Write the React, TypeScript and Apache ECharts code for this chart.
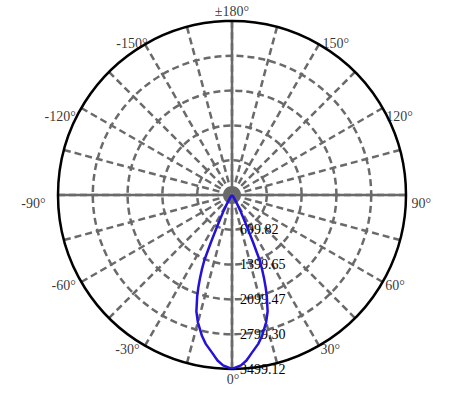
import { useEffect, useRef } from "react";
import * as echarts from "echarts";

// angles (deg, C0-C180 plane) and luminous intensity (cd)
const angles = [0, 3, 5, 7, 10, 12, 15, 17, 19, 20, 21, 22, 23, 24, 25, 26, 28, 30, 35, 40, 45, 90, 135, 180];
const intensity = [3499.12, 3430, 3340, 3209, 3040, 2900, 2650, 2450, 2150, 1980, 1800, 1620, 1420, 1050, 750, 560, 350, 200, 60, 15, 0, 0, 0, 0];
const angleTicks = [-150, -120, -90, -60, -30, 0, 30, 60, 90, 120, 150, 180];
const radiusMax = 3499.12;
const ringCount = 5;

const FONT = "'Liberation Serif', 'Times New Roman', serif";
const GRID = "#6a6a6a";

function toAxis(a: number): number {
    return a < 0 ? a + 360 : a;
}

function buildPoints(): [number, number][] {
    const pts: [number, number][] = [];
    // -180 .. 0 .. 180
    for (let i = angles.length - 1; i > 0; i--) {
        pts.push([intensity[i], toAxis(-angles[i])]);
    }
    for (let i = 0; i < angles.length; i++) {
        pts.push([intensity[i], angles[i]]);
    }
    return pts;
}

// nudge of each angle label from its point on the outer circle
function labelShift(a: number): [number, number] {
    const m = Math.abs(a);
    const side = a > 0 ? 1 : -1;
    if (m === 150) return [side === 1 ? 3 : 3, -1];
    if (m === 120) return [side === 1 ? 3 : -5, 8];
    if (m === 90) return [side === 1 ? 5 : -12, 8];
    if (m === 60) return [side === 1 ? 2 : -5, 3];
    return [side === 1 ? 1 : -5, 4];
}

function tickLabels() {
    return angleTicks.map((a) => {
        let position = a > 0 ? "right" : "left";
        let offset: [number, number] = [0, 0];
        let distance = 0;
        if (a === 0) { position = "bottom"; offset = [1, 0]; distance = 3; }
        else if (a === 180) { position = "top"; distance = 2; }
        else offset = labelShift(a);
        return {
            value: [radiusMax, toAxis(a)],
            label: {
                show: true,
                position,
                distance,
                offset,
                formatter: a === 180 ? "±180°" : a + "°"
            }
        };
    });
}

export default function App() {
    const ref = useRef<HTMLDivElement>(null);

    useEffect(() => {
        if (!ref.current) return;
        const chart = echarts.init(ref.current, undefined, { renderer: "svg" });
        const center = [232, 195];
        const radius = 174;
        const ringColors = Array.from({ length: ringCount + 1 }, () => GRID);
        ringColors.push("rgba(0,0,0,0)");
        chart.setOption({
            animation: false,
            backgroundColor: "#fff",
            polar: [
                { center, radius },
                { center, radius }
            ],
            angleAxis: [
                {
                    polarIndex: 0,
                    type: "value",
                    min: 0,
                    max: 360,
                    interval: 15,
                    startAngle: 270,
                    clockwise: false,
                    axisLine: { show: true, lineStyle: { color: "#000", width: 2.5 } },
                    axisTick: { show: false },
                    axisLabel: { show: false },
                    splitLine: { show: true, lineStyle: { color: GRID, width: 2.5, type: [7, 4] } },
                    z: 1
                },
                {
                    polarIndex: 1,
                    type: "value",
                    min: 0,
                    max: 360,
                    interval: 90,
                    startAngle: 270,
                    clockwise: false,
                    axisLine: { show: false },
                    axisTick: { show: false },
                    axisLabel: { show: false },
                    splitLine: { show: true, lineStyle: { color: GRID, width: 2.5 } },
                    z: 1
                }
            ],
            radiusAxis: [
                {
                    polarIndex: 0,
                    type: "value",
                    min: 0,
                    max: radiusMax,
                    interval: radiusMax / ringCount,
                    axisLine: { show: false },
                    axisTick: { show: false },
                    axisLabel: {
                        formatter: (v: number) => (v === 0 ? "" : v.toFixed(2)),
                        color: "#000",
                        fontSize: 14,
                        fontFamily: FONT
                    },
                    splitLine: {
                        show: true,
                        lineStyle: { color: ringColors.slice(1), width: 2.5, type: [7, 4] }
                    },
                    z: 2
                },
                {
                    polarIndex: 1,
                    type: "value",
                    min: 0,
                    max: radiusMax,
                    show: false,
                    splitLine: { show: false }
                }
            ],
            series: [
                {
                    type: "line",
                    coordinateSystem: "polar",
                    polarIndex: 0,
                    data: buildPoints(),
                    showSymbol: false,
                    lineStyle: { color: "#2412d8", width: 2.5 },
                    z: 6
                },
                {
                    type: "scatter",
                    coordinateSystem: "polar",
                    polarIndex: 0,
                    symbolSize: 1,
                    itemStyle: { color: "rgba(0,0,0,0)" },
                    label: { color: "#000", fontSize: 14, fontFamily: FONT },
                    data: tickLabels(),
                    silent: true,
                    z: 7
                }
            ]
        });
        return () => chart.dispose();
    }, []);

    return (
        <div
            ref={ref}
            style={{ position: "absolute", left: 0, top: 0, width: 461, height: 408 }}
        />
    );
}
